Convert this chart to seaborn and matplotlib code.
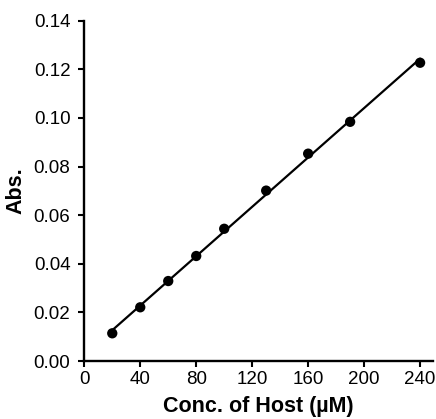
import matplotlib
matplotlib.use("Agg")
import matplotlib.pyplot as plt
import seaborn as sns
import pandas as pd

# Host concentration (µM) and measured absorbance
conc = [20, 40, 60, 80, 100, 130, 160, 190, 240]
absorbance = [0.0114, 0.0221, 0.0329, 0.0432, 0.0544, 0.0701, 0.0853, 0.0984, 0.1227]

x_ticks = [0, 40, 80, 120, 160, 200, 240]
y_ticks = [0.00, 0.02, 0.04, 0.06, 0.08, 0.10, 0.12, 0.14]

sns.set_style("ticks")
plt.rcParams["font.family"] = ["Liberation Sans", "DejaVu Sans"]
plt.rcParams.update({
    "text.color": "black",
    "axes.labelcolor": "black",
    "xtick.color": "black",
    "ytick.color": "black",
    "axes.edgecolor": "black",
})

df = pd.DataFrame({"conc": conc, "abs": absorbance})

fig = plt.figure(figsize=(4.36, 4.19), dpi=100)
ax = fig.add_axes([0.1933, 0.1384, 0.7991, 0.8122])

sns.regplot(data=df, x="conc", y="abs", ax=ax, ci=None, truncate=True,
            color="black",
            scatter_kws={"s": 55, "color": "black", "alpha": 1,
                         "edgecolor": "none", "zorder": 3},
            line_kws={"linewidth": 1.6, "color": "black"})

ax.set_xlim(0, 249)
ax.set_ylim(0, 0.14)
ax.set_xticks(x_ticks)
ax.set_yticks(y_ticks)
ax.set_yticklabels([f"{v:.2f}" for v in y_ticks])

for side in ("top", "right"):
    ax.spines[side].set_visible(False)
for side in ("left", "bottom"):
    ax.spines[side].set_linewidth(1.7)
    ax.spines[side].set_color("black")

ax.tick_params(axis="both", direction="out", length=4, width=1.5,
               labelsize=13.5, colors="black")
ax.tick_params(axis="y", pad=6)
ax.tick_params(axis="x", pad=3)

ax.set_xlabel("Conc. of Host (µM)", fontsize=15.5, fontweight="bold", labelpad=6)
ax.set_ylabel("Abs.", fontsize=15.5, fontweight="bold", labelpad=5)

fig.savefig("out.png", dpi=100)
